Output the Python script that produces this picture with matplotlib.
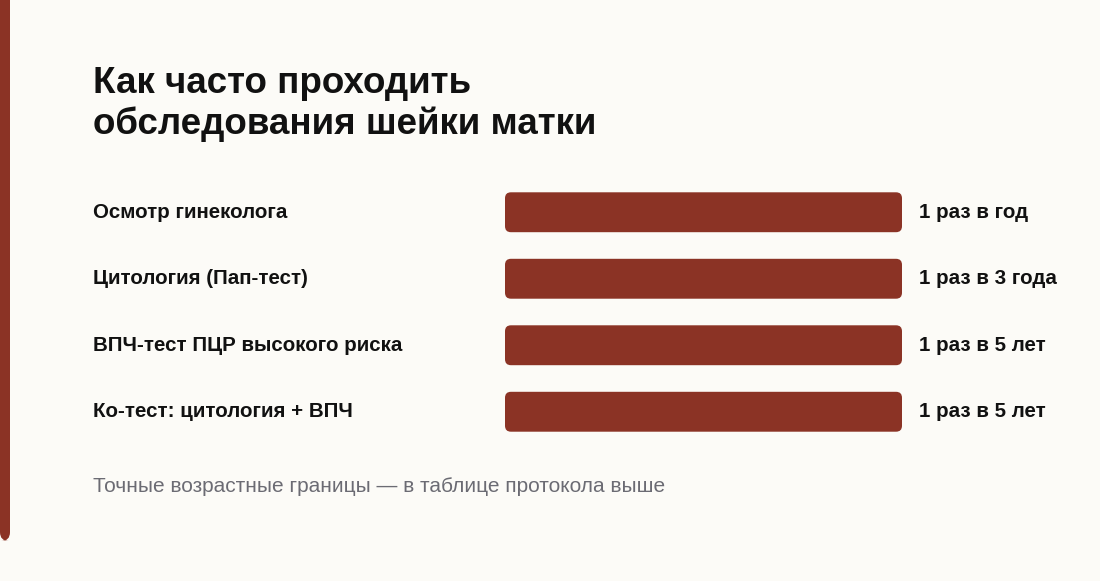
import matplotlib
matplotlib.use("Agg")
import matplotlib.pyplot as plt
import matplotlib.transforms as mt
from matplotlib.patches import FancyBboxPatch, Rectangle

categories = ["Осмотр гинеколога", "Цитология (Пап-тест)", "ВПЧ-тест ПЦР высокого риска", "Ко-тест: цитология + ВПЧ"]
values = [1, 1, 1, 1]
value_labels = ["1 раз в год", "1 раз в 3 года", "1 раз в 5 лет", "1 раз в 5 лет"]
title = "Как часто проходить\nобследования шейки матки"
note = "Точные возрастные границы — в таблице протокола выше"

W, H = 1100, 581
BG = "#fcfbf7"
RED = "#8b3325"
plt.rcParams['font.family'] = ['Liberation Sans', 'DejaVu Sans']

fig = plt.figure(figsize=(W/100, H/100), dpi=100, facecolor=BG)
fig.patches.append(FancyBboxPatch((0, 40/H), 10/W, 1 - 40/H, boxstyle="round,pad=0,rounding_size=0.008",
                                  transform=fig.transFigure, facecolor=RED, edgecolor="none", mutation_aspect=W/H))
fig.patches.append(Rectangle((0, 0.5), 10/W, 0.5, transform=fig.transFigure, facecolor=RED, edgecolor="none"))

fig.text(93/W, 1 - 66/H, title, fontsize=26.5, fontweight="bold", color="#111111", va="top", ha="left", linespacing=1.2)

ax = fig.add_axes([505/W, (H - 445)/H, 397/W, 266/H])
ax.set_facecolor("none")
bars = ax.barh(range(len(categories)), values, height=0.6, color=RED)
ax.set_xlim(0, max(values))
ax.set_ylim(len(categories) - 0.5, -0.5)
ax.axis("off")
for b in bars:
    x, y, w, h = b.get_x(), b.get_y(), b.get_width(), b.get_height()
    b.set_visible(False)
    ax.add_patch(FancyBboxPatch((x, y), w, h, boxstyle="round,pad=0,rounding_size=0.015",
                                mutation_aspect=6.0, facecolor=RED, edgecolor="none"))
lab_tr = mt.blended_transform_factory(fig.transFigure, ax.transData)
for i, (c, v, vl) in enumerate(zip(categories, values, value_labels)):
    ax.text(93/W, i, c, transform=lab_tr, fontsize=14.8, fontweight="bold", color="#111111", va="center", ha="left")
    ax.annotate(vl, (v, i), xytext=(17, 0), textcoords="offset pixels",
                fontsize=14.8, fontweight="bold", color="#111111", va="center", ha="left")

fig.text(93/W, 1 - 486/H, note, fontsize=15, color="#6b6b73", va="center", ha="left")
fig.savefig("out.png", dpi=100, facecolor=BG)
